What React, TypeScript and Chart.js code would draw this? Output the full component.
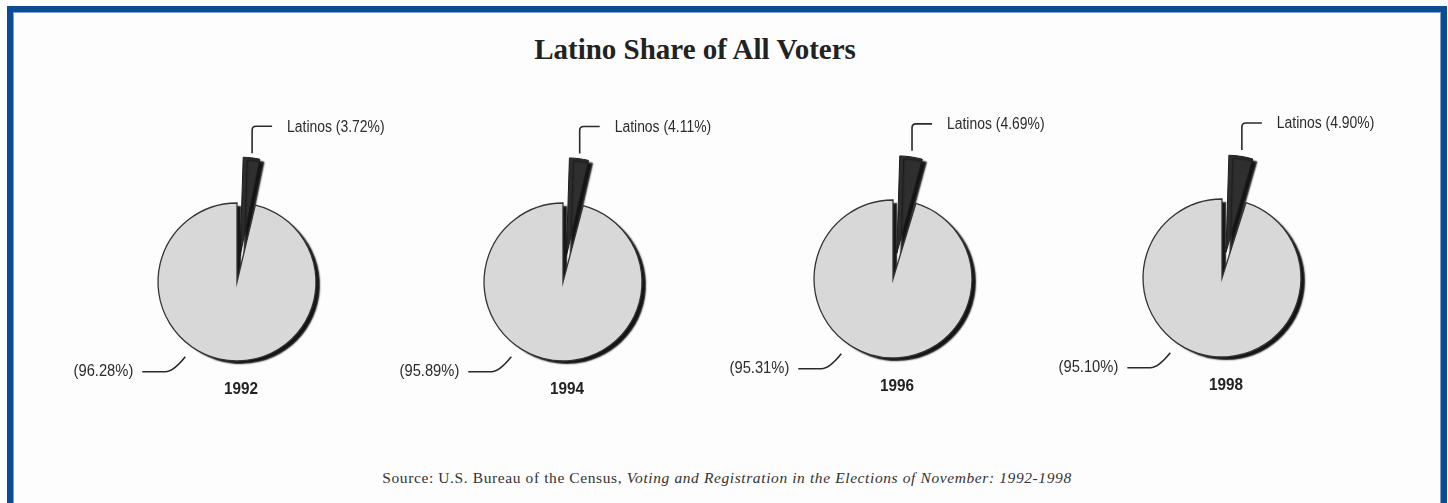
import React, { useEffect, useRef } from "react";
import { Chart, registerables } from "chart.js";

Chart.register(...registerables);

// ---- data ----
const years = ["1992", "1994", "1996", "1998"];
const sliceNames = ["Latinos", "All other voters"];
const latinoShare = [3.72, 4.11, 4.69, 4.9];
const otherShare = [96.28, 95.89, 95.31, 95.1];
const latinoLabels = ["Latinos (3.72%)", "Latinos (4.11%)", "Latinos (4.69%)", "Latinos (4.90%)"];
const otherLabels = ["(96.28%)", "(95.89%)", "(95.31%)", "(95.10%)"];
const titleText = "Latino Share of All Voters";
const sourcePrefix = "Source: U.S. Bureau of the Census, ";
const sourceTitle = "Voting and Registration in the Elections of November: 1992-1998";

// ---- layout (pie centres in page pixels) ----
const PIE_CENTERS: [number, number][] = [
  [237, 282],
  [563, 282],
  [893, 279],
  [1222, 278],
];
const CW = 440;
const CH = 330;
const SANS = '"Liberation Sans", Arial, sans-serif';

function drawNarrowText(
  ctx: CanvasRenderingContext2D,
  text: string,
  x: number,
  y: number,
  align: CanvasTextAlign,
  sx: number
) {
  ctx.save();
  ctx.translate(x, y);
  ctx.scale(sx, 1);
  ctx.textAlign = align;
  ctx.fillText(text, 0, 0);
  ctx.restore();
}

function PieChart({ index }: { index: number }) {
  const ref = useRef<HTMLCanvasElement | null>(null);
  const [cx, cy] = PIE_CENTERS[index];

  useEffect(() => {
    if (!ref.current) return;

    const shadowPlugin = {
      id: "shadow3d",
      beforeDatasetsDraw(chart: any) {
        const ctx = chart.ctx;
        ctx.save();
        ctx.shadowColor = "rgba(20,20,20,1)";
        ctx.shadowOffsetX = 4;
        ctx.shadowOffsetY = 3;
        ctx.shadowBlur = 1.5;
      },
      afterDatasetsDraw(chart: any) {
        const ctx = chart.ctx;
        ctx.restore();
        // outline of the main (unexploded) slice, from the library's arc geometry
        const a1 = chart.getDatasetMeta(0).data[1];
        const p = a1.getProps(["x", "y", "startAngle", "endAngle", "outerRadius"], true);
        ctx.save();
        ctx.strokeStyle = "#333333";
        ctx.lineWidth = 1.3;
        ctx.beginPath();
        ctx.moveTo(p.x, p.y);
        ctx.arc(p.x, p.y, p.outerRadius, p.startAngle, p.endAngle);
        ctx.closePath();
        ctx.stroke();
        ctx.restore();
      },
    };

    const labelPlugin = {
      id: "pieLabels",
      afterDraw(chart: any) {
        const ctx = chart.ctx;
        const meta = chart.getDatasetMeta(0);
        const a0 = meta.data[0];
        const p = a0.getProps(["x", "y", "startAngle", "endAngle", "outerRadius"], true);
        const mid = (p.startAngle + p.endAngle) / 2;
        const r = p.outerRadius * 1.64;
        const sx = p.x + Math.cos(mid) * r;
        const sy = p.y + Math.sin(mid) * r;

        ctx.save();
        ctx.strokeStyle = "#2a2a2a";
        ctx.lineWidth = 1.6;
        ctx.beginPath();
        ctx.moveTo(sx, sy);
        ctx.lineTo(sx, sy - 23);
        ctx.quadraticCurveTo(sx, sy - 27, sx + 4, sy - 27);
        ctx.lineTo(sx + 20, sy - 27);
        ctx.stroke();

        ctx.fillStyle = "#2b2b2b";
        ctx.font = `16px ${SANS}`;
        ctx.textBaseline = "middle";
        drawNarrowText(ctx, latinoLabels[index], sx + 35, sy - 26, "left", 0.87);

        // other voters leader
        const ang = (124.7 * Math.PI) / 180;
        const rr = p.outerRadius * 1.15;
        const qx = p.x + Math.cos(ang) * rr;
        const qy = p.y + Math.sin(ang) * rr;
        ctx.beginPath();
        ctx.moveTo(qx, qy);
        ctx.quadraticCurveTo(qx - 12, qy + 15, qx - 20, qy + 15);
        ctx.lineTo(qx - 43, qy + 15);
        ctx.stroke();
        drawNarrowText(ctx, otherLabels[index], qx - 52, qy + 15, "right", 0.92);

        // year
        ctx.font = `bold 17px ${SANS}`;
        ctx.fillStyle = "#222";
        drawNarrowText(ctx, years[index], p.x + 4, p.y + 107, "center", 0.9);
        ctx.restore();
      },
    };

    const chart = new Chart(ref.current, {
      type: "pie",
      data: {
        labels: sliceNames,
        datasets: [
          {
            data: [latinoShare[index], otherShare[index]],
            backgroundColor: ["#2f2f2f", "#d8d8d8"],
            borderColor: ["#1c1c1c", "#333333"],
            borderWidth: [1, 0],
            offset: [104, 0],
            hoverOffset: 0,
          },
        ],
      },
      options: {
        animation: false,
        responsive: false,
        events: [],
        radius: 79,
        layout: { padding: 0 },
        plugins: {
          legend: { display: false },
          tooltip: { enabled: false },
          title: { display: false },
        },
      } as any,
      plugins: [shadowPlugin, labelPlugin],
    });
    return () => chart.destroy();
  }, [index]);

  return (
    <canvas
      ref={ref}
      width={CW}
      height={CH}
      style={{
        position: "absolute",
        left: cx - CW / 2,
        top: cy - CH / 2,
        width: CW,
        height: CH,
      }}
    />
  );
}

export default function App() {
  return (
    <div
      style={{
        position: "absolute",
        left: 0,
        top: 0,
        width: 1448,
        height: 503,
        overflow: "hidden",
        background: "#ffffff",
      }}
    >
      <div
        style={{
          position: "absolute",
          left: 7,
          top: 6,
          width: 1440,
          height: 560,
          boxSizing: "border-box",
          border: "6px solid #0b4c94",
          boxShadow: "inset 0 0 0 1px #7f9fcb",
          background: "#fdfdfd",
        }}
      />
      <div
        style={{
          position: "absolute",
          left: 395,
          top: 35,
          width: 600,
          textAlign: "center",
          fontFamily: '"Liberation Serif", "Times New Roman", serif',
          fontWeight: "bold",
          fontSize: 29,
          lineHeight: "29px",
          color: "#222",
        }}
      >
        {titleText}
      </div>
      {years.map((_, i) => (
        <PieChart key={i} index={i} />
      ))}
      <div
        style={{
          position: "absolute",
          left: 327,
          top: 469,
          width: 800,
          textAlign: "center",
          fontFamily: '"Liberation Serif", "Times New Roman", serif',
          fontSize: 15.5,
          letterSpacing: 0.6,
          lineHeight: "17px",
          color: "#333",
          whiteSpace: "nowrap",
        }}
      >
        {sourcePrefix}
        <i>{sourceTitle}</i>
      </div>
    </div>
  );
}
